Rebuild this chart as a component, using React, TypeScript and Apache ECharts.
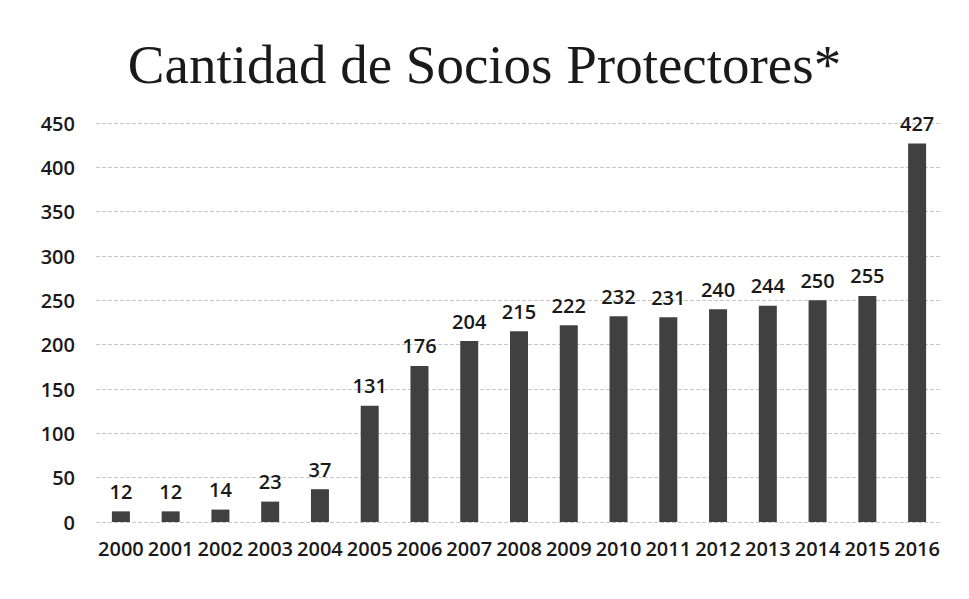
import React, { useEffect, useRef } from "react";
import * as echarts from "echarts";

const years = ["2000", "2001", "2002", "2003", "2004", "2005", "2006", "2007", "2008", "2009", "2010", "2011", "2012", "2013", "2014", "2015", "2016"];
const socios = [12, 12, 14, 23, 37, 131, 176, 204, 215, 222, 232, 231, 240, 244, 250, 255, 427];
const titleText = "Cantidad de Socios Protectores*";

export default function App() {
  const ref = useRef<HTMLDivElement>(null);
  useEffect(() => {
    if (!ref.current) return;
    const chart = echarts.init(ref.current, null, { renderer: "svg" });
    chart.setOption({
      animation: false,
      backgroundColor: "#ffffff",
      title: {
        text: titleText,
        left: "center",
        top: 32,
        textStyle: { fontFamily: "Liberation Serif", fontSize: 55, fontWeight: "normal", color: "#1a1a1a" },
      },
      grid: { left: 96, right: 27, top: 123, bottom: 77 },
      xAxis: {
        type: "category",
        data: years,
        axisLine: { show: false },
        axisTick: { show: false },
        axisLabel: { interval: 0, margin: 16, fontFamily: "Open Sans", fontSize: 20, fontWeight: 600, color: "#1a1a1a" },
      },
      yAxis: {
        type: "value",
        min: 0,
        max: 450,
        interval: 50,
        axisLine: { show: false },
        axisTick: { show: false },
        axisLabel: { margin: 21, fontFamily: "Open Sans", fontSize: 20, fontWeight: 600, color: "#1a1a1a" },
        splitLine: { lineStyle: { color: "#c8c8c8", type: "dashed", width: 1 } },
      },
      series: [
        {
          type: "bar",
          data: socios,
          barWidth: 18,
          itemStyle: { color: "#404040" },
          label: { show: true, position: "top", distance: 10, fontFamily: "Open Sans", fontSize: 20, fontWeight: 600, color: "#1a1a1a" },
        },
      ],
    });
    return () => chart.dispose();
  }, []);
  return <div ref={ref} style={{ position: "fixed", left: 0, top: 0, width: 969, height: 599 }} />;
}
